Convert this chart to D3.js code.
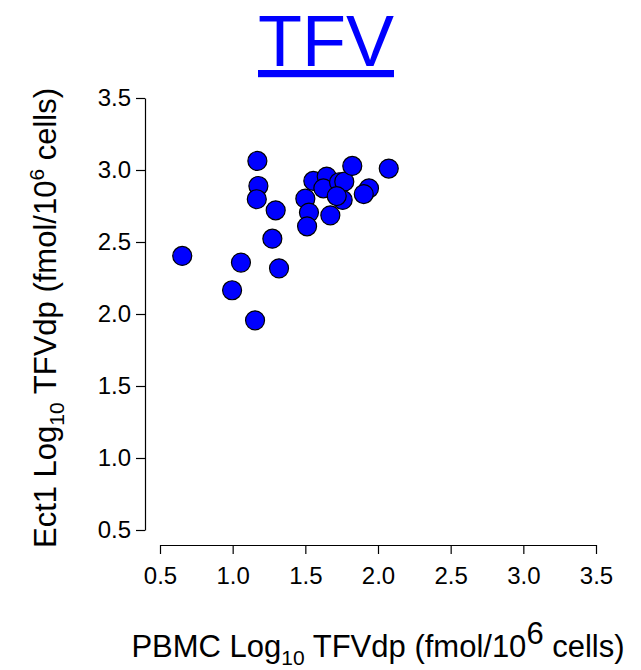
<!DOCTYPE html>
<html><head><meta charset="utf-8">
<script src="https://cdn.jsdelivr.net/npm/d3@7"></script>
<style>body{margin:0;background:#fff}</style>
</head><body><div id="chart"></div>
<script>
const xVals = [1.170,1.177,1.166,1.296,1.273,0.653,1.057,1.319,0.996,1.154,1.500,1.525,1.512,1.555,1.647,1.624,1.672,1.732,1.768,1.757,1.716,1.823,1.938,1.902,2.074]
const yVals = [3.063,2.889,2.797,2.720,2.523,2.403,2.357,2.317,2.165,1.956,2.801,2.704,2.609,2.924,2.954,2.873,2.685,2.915,2.919,2.792,2.819,3.028,2.873,2.833,3.010]
const ticks = [0.5,1.0,1.5,2.0,2.5,3.0,3.5]

const svg = d3.select("#chart").append("svg").attr("width",641).attr("height",670)
  .style("font-family","Liberation Sans, Arial, sans-serif")

const x = d3.scaleLinear().domain([0.5,3.5]).range([160,596])
const y = d3.scaleLinear().domain([0.5,3.5]).range([530,98])

svg.append("g").attr("transform","translate(0,545)")
  .call(d3.axisBottom(x).tickValues(ticks).tickFormat(d3.format(".1f")).tickSize(9).tickSizeOuter(0))
  .call(g=>g.selectAll("text").attr("font-size",24).attr("y",22).attr("dy","0.71em"))
svg.append("g").attr("transform","translate(145,0)")
  .call(d3.axisLeft(y).tickValues(ticks).tickFormat(d3.format(".1f")).tickSize(9).tickSizeOuter(0))
  .call(g=>g.selectAll("text").attr("font-size",24).attr("x",-14))
svg.selectAll(".domain, .tick line").attr("stroke","#000").attr("stroke-width",1.2)
svg.selectAll(".tick text").attr("fill","#000").style("font-family","Liberation Sans, Arial, sans-serif")

svg.append("g").selectAll("circle").data(xVals).join("circle")
  .attr("cx",d=>x(d)).attr("cy",(d,i)=>y(yVals[i])).attr("r",9.5)
  .attr("fill","#0000ff").attr("stroke","#000").attr("stroke-width",1.2)

svg.append("text").attr("x",326).attr("y",66).attr("text-anchor","middle")
  .attr("font-size",72).attr("fill","#0000ff").attr("text-decoration","underline").text("TFV")

const xl = svg.append("text").attr("x",378).attr("y",657).attr("text-anchor","middle").attr("font-size",31)
xl.append("tspan").text("PBMC Log")
xl.append("tspan").attr("font-size",21).attr("dy",8).text("10")
xl.append("tspan").attr("dy",-8).text(" TFVdp (fmol/10")
xl.append("tspan").attr("dy",-13).text("6")
xl.append("tspan").attr("dy",13).text(" cells)")

const yl = svg.append("text").attr("transform","translate(56,318) rotate(-90)").attr("text-anchor","middle").attr("font-size",31)
yl.append("tspan").text("Ect1 Log")
yl.append("tspan").attr("font-size",21).attr("dy",8).text("10")
yl.append("tspan").attr("dy",-8).text(" TFVdp (fmol/10")
yl.append("tspan").attr("font-size",21).attr("dy",-12).text("6")
yl.append("tspan").attr("dy",12).text(" cells)")
</script></body></html>
